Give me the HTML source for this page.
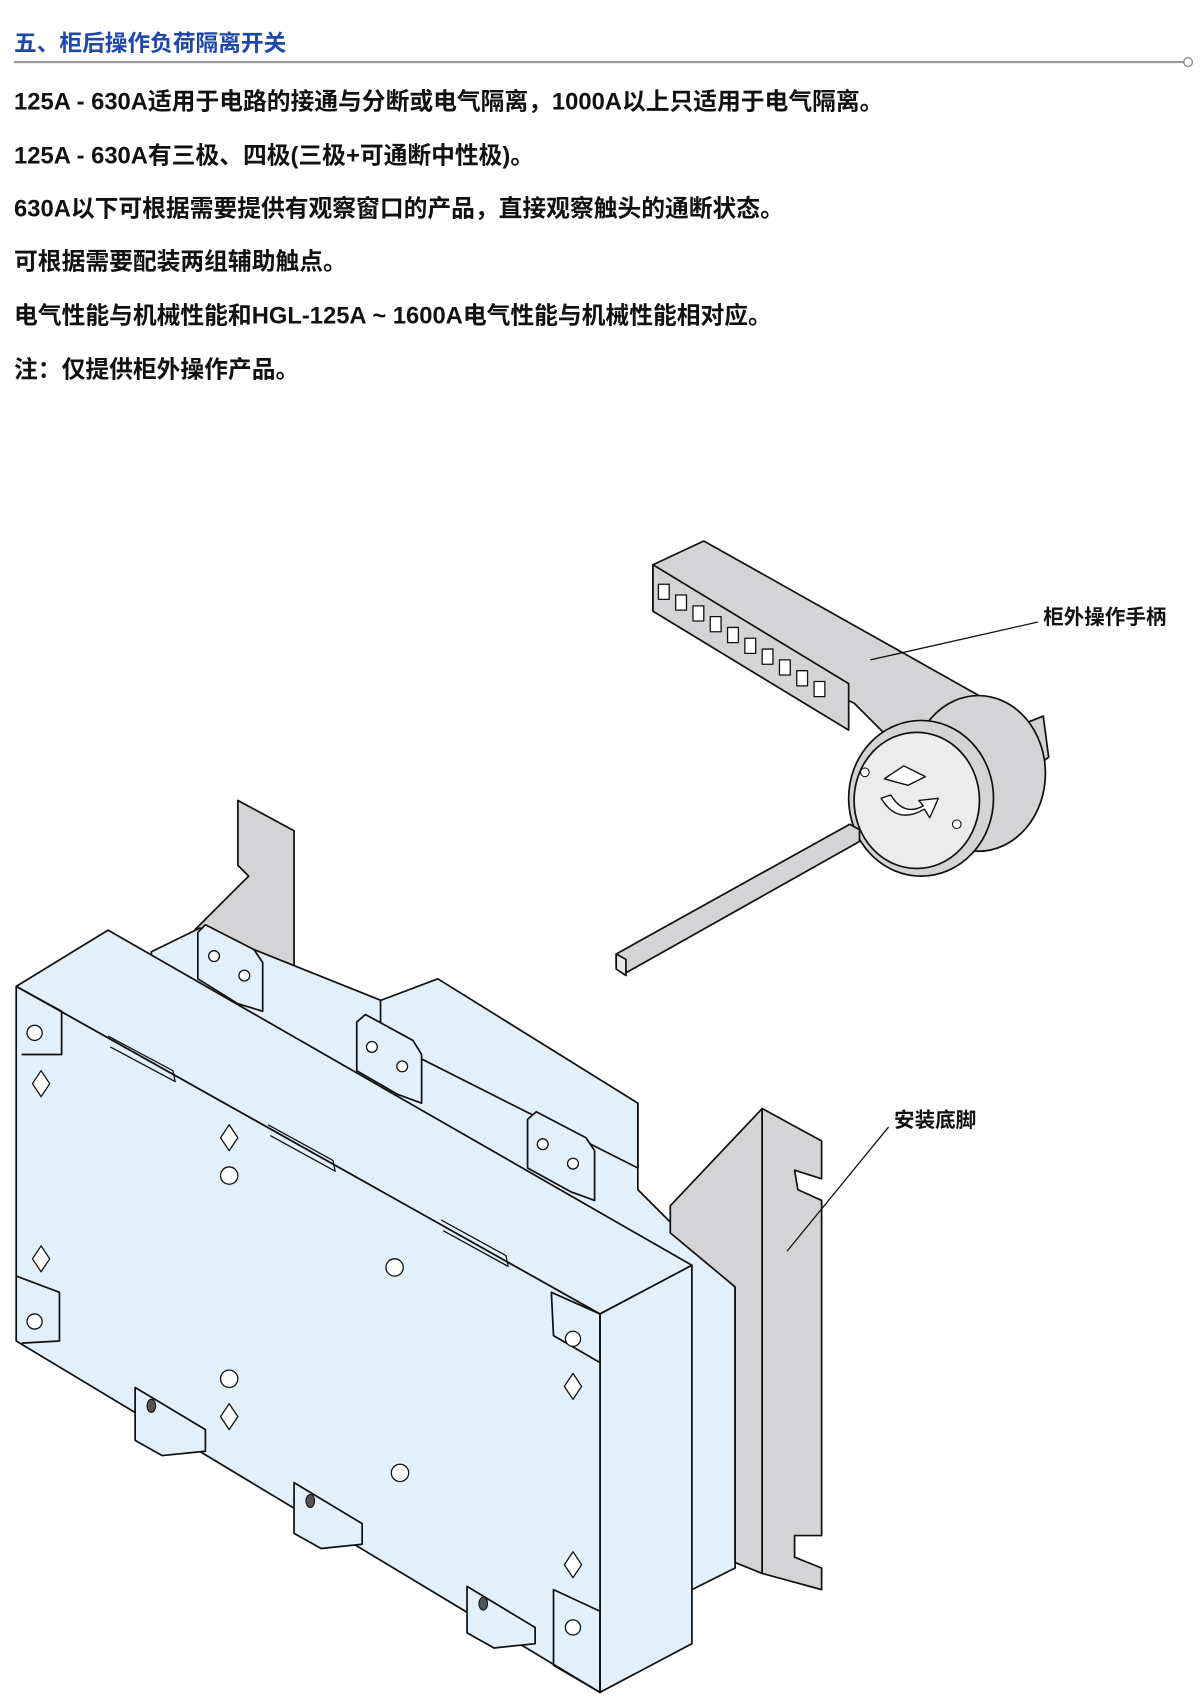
<!DOCTYPE html>
<html><head><meta charset="utf-8"><style>
html,body{margin:0;padding:0;background:#fff;}
svg{display:block;}
text{font-family:"Liberation Sans","Noto Sans CJK SC",sans-serif;}
</style></head><body>
<svg width="1200" height="1696" viewBox="0 0 1110 1568" xmlns="http://www.w3.org/2000/svg">
<rect width="1110" height="1568" fill="#fff"/>
<text x="13" y="47" font-size="21" font-weight="bold" fill="#1d47a8">五、柜后操作负荷隔离开关</text>
<line x1="13" y1="57" x2="1095" y2="57" stroke="#999" stroke-width="2"/>
<circle cx="1099" cy="57" r="4" fill="#fff" stroke="#888" stroke-width="1.2"/>
<g font-size="22" font-weight="bold" fill="#111">
<text x="13" y="101">125A - 630A适用于电路的接通与分断或电气隔离，1000A以上只适用于电气隔离。</text>
<text x="13" y="151">125A - 630A有三极、四极(三极+可通断中性极)。</text>
<text x="13" y="200">630A以下可根据需要提供有观察窗口的产品，直接观察触头的通断状态。</text>
<text x="13" y="249">可根据需要配装两组辅助触点。</text>
<text x="13" y="299">电气性能与机械性能和HGL-125A ~ 1600A电气性能与机械性能相对应。</text>
<text x="13" y="349">注：仅提供柜外操作产品。</text>
</g>
<g stroke="#111" stroke-width="1.6" stroke-linejoin="round">
<!-- handle -->
<polygon points="604,522 651,500 950,668 965,662 970,700 930,730 880,740 790,650 604,565" fill="#d4d4d6"/>
<polygon points="604,522 785,632 785,675 604,565" fill="#d4d4d6"/>
<g fill="#fff" stroke-width="1.2">
<rect x="609" y="540" width="10" height="14"/><rect x="625" y="550" width="10" height="14"/><rect x="641" y="560" width="10" height="14"/><rect x="657" y="570" width="10" height="14"/><rect x="673" y="580" width="10" height="14"/><rect x="689" y="590" width="10" height="14"/><rect x="705" y="600" width="10" height="14"/><rect x="721" y="610" width="10" height="14"/><rect x="737" y="620" width="10" height="14"/><rect x="753" y="630" width="10" height="14"/>
</g>
<ellipse cx="905" cy="715" rx="62" ry="72" fill="#d4d4d6"/>
<ellipse cx="852" cy="738" rx="67" ry="72" fill="#d4d4d6"/>
<ellipse cx="848" cy="740" rx="58" ry="63" fill="#ececed"/>
<path d="M818,720 l18,-12 l20,10 l-16,8 z" fill="#fff" stroke-width="1.3"/>
<path d="M815,738 q15,25 40,10 l5,8 l8,-18 l-18,2 l4,5 q-18,10 -30,-10 z" fill="#fff" stroke-width="1.3"/>
<circle cx="800" cy="714" r="4" fill="#fff" stroke-width="1"/>
<circle cx="885" cy="762" r="4" fill="#fff" stroke-width="1"/>
<!-- shaft -->
<polygon points="570,882 786,762 795,767 795,778 578,900 570,893" fill="#d4d4d6"/>
<polygon points="570,882 579,887 579,902 570,896" fill="#e8e8e8"/>
<!-- left bracket -->
<polygon points="220,740 272,768 272,915 200,875 180,860 230,810 220,800" fill="#d4d4d6"/>
<!-- back box -->
<polygon points="140,880 185,858 590,1020 590,1100 680,1190 680,1450 640,1470 140,1200" fill="#e2f0fb"/>
<polygon points="352,925 405,905 590,1020 590,1080 352,960" fill="#e2f0fb"/>
<!-- right bracket -->
<polygon points="620,1115 705,1025 705,1455 680,1445 680,1190 620,1140" fill="#d4d4d6"/>
<polygon points="705,1025 760,1055 760,1090 735,1082 738,1100 760,1110 760,1420 735,1420 735,1440 760,1450 760,1470 705,1455" fill="#d4d4d6"/>
<!-- terminals top -->
<polygon points="183,862 190,855 235,878 243,890 243,935 220,928 183,905" fill="#e2f0fb"/>
<polygon points="330,945 338,938 382,962 390,975 390,1020 368,1012 330,990" fill="#e2f0fb"/>
<polygon points="488,1035 496,1028 542,1052 550,1064 550,1110 528,1102 488,1080" fill="#e2f0fb"/>
<g fill="#fff" stroke-width="1.2">
<circle cx="198" cy="884" r="5"/><circle cx="226" cy="902" r="5"/>
<circle cx="344" cy="968" r="5"/><circle cx="372" cy="986" r="5"/>
<circle cx="502" cy="1058" r="5"/><circle cx="530" cy="1076" r="5"/>
</g>
<!-- main box -->
<polygon points="15,912 100,860 640,1170 555,1215" fill="#e2f0fb"/>
<polygon points="555,1215 640,1170 640,1520 555,1565" fill="#e2f0fb"/>
<polygon points="15,912 555,1215 555,1565 15,1240" fill="#e2f0fb"/>
<!-- bottom terminals -->
<polygon points="125,1283 190,1322 190,1342 150,1346 125,1332" fill="#e2f0fb"/>
<polygon points="272,1371 335,1409 335,1428 297,1432 272,1418" fill="#e2f0fb"/>
<polygon points="432,1467 495,1505 495,1520 457,1524 432,1510" fill="#e2f0fb"/>
<g fill="#555" stroke-width="1"><ellipse cx="140" cy="1300" rx="4" ry="6"/><ellipse cx="287" cy="1388" rx="4" ry="6"/><ellipse cx="447" cy="1483" rx="4" ry="6"/></g>
<path d="M15,912 L57,935 L57,975 L20,975" fill="none"/>
<path d="M15,1180 L55,1195 L55,1240 L20,1242" fill="none"/>
<path d="M510,1195 L555,1215 L555,1260 L512,1235 Z" fill="none"/>
<path d="M512,1470 L555,1490 L555,1565 L512,1540 Z" fill="none"/>
<polyline points="100,958 160,990 162,1000 102,968" fill="none" stroke-width="1.2"/>
<polyline points="248,1040 308,1073 310,1083 250,1050" fill="none" stroke-width="1.2"/>
<polyline points="408,1128 468,1161 470,1171 410,1138" fill="none" stroke-width="1.2"/>
<g fill="#fff" stroke-width="1.2">
<circle cx="32" cy="955" r="7"/><circle cx="32" cy="1222" r="7"/><circle cx="530" cy="1238" r="7"/><circle cx="530" cy="1505" r="7"/>
<circle cx="212" cy="1087" r="8"/><circle cx="365" cy="1172" r="8"/><circle cx="212" cy="1275" r="8"/><circle cx="370" cy="1362" r="8"/>
</g>
<g fill="#fff" stroke-width="1.2">
<polygon points="38,990 46,1002 38,1014 30,1002"/>
<polygon points="212,1040 220,1052 212,1064 204,1052"/>
<polygon points="38,1152 46,1164 38,1176 30,1164"/>
<polygon points="212,1298 220,1310 212,1322 204,1310"/>
<polygon points="530,1270 538,1282 530,1294 522,1282"/>
<polygon points="530,1435 538,1447 530,1459 522,1447"/>
</g>
</g>
<g stroke="#111" stroke-width="1.2">
<line x1="805" y1="610" x2="960" y2="575"/>
<line x1="728" y1="1157" x2="822" y2="1042"/>
</g>
<text x="965" y="577" font-size="19" font-weight="bold" fill="#111">柜外操作手柄</text>
<text x="827" y="1042" font-size="19" font-weight="bold" fill="#111">安装底脚</text>
</svg>
</body></html>
